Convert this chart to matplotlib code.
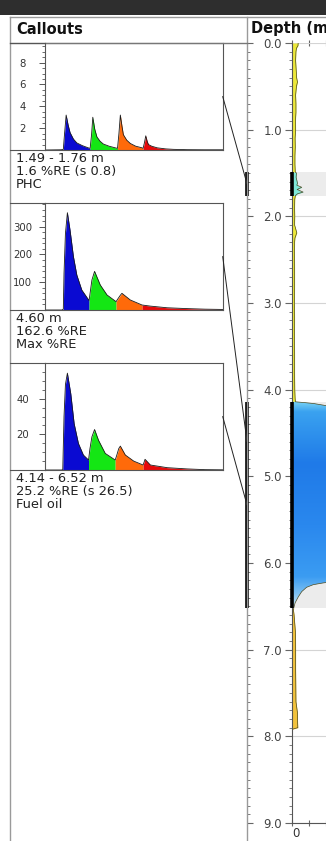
import matplotlib
matplotlib.use('Agg')
import matplotlib.pyplot as plt
import numpy as np
from matplotlib.lines import Line2D
from matplotlib.patches import Rectangle, ConnectionPatch
from matplotlib.colors import LinearSegmentedColormap
from matplotlib.ticker import MultipleLocator
import matplotlib.transforms as mtransforms

W, H = 326, 841

# callout chromatograms: time (% of window) vs intensity
peak_colors = ['#0a0ad2', '#14e614', '#ff6a0a', '#e60a0a']

c1_t = [0, 9.0, 10.3, 11.0, 11.9, 13.0, 14.1, 16.0, 17.9, 21.0, 24.3, 25.4, 26.2, 26.9, 28.0,
        29.2, 31.0, 32.8, 36.0, 39.5, 40.8, 41.6, 42.4, 43.3, 44.1, 46.0, 48.0, 51.0, 54.6, 55.2,
        56.0, 56.7, 57.5, 58.2, 60.0, 63.1, 68.0, 72.3, 80.0, 90.0, 100.0]
c1_v = [0, 0.02, 0.05, 1.5, 3.2, 2.3, 1.6, 1.0, 0.65, 0.4, 0.2, 0.15, 1.4, 3.0, 1.9,
        1.2, 0.8, 0.55, 0.35, 0.2, 0.15, 1.5, 3.2, 2.2, 1.4, 0.9, 0.6, 0.35, 0.2, 0.15,
        0.7, 1.3, 0.8, 0.5, 0.35, 0.2, 0.1, 0.06, 0.03, 0.02, 0.02]
c1_cuts = [25.4, 40.8, 55.2]

c2_t = [0, 9.5, 10.3, 10.7, 11.5, 12.6, 14.1, 16.0, 17.9, 20.7, 24.8, 26.4, 27.9, 31.1, 34.9,
        40.0, 41.0, 42.5, 43.3, 48.0, 54.6, 59.3, 68.8, 80.1, 90.0, 100.0]
c2_v = [0, 0, 3, 132, 276, 350, 287, 192, 126, 72, 34, 108, 139, 90, 54,
        30, 40, 54, 60, 36, 18, 14, 8, 5, 3, 2]
c2_cuts = [24.8, 40.0, 54.6]

c3_t = [0, 9.5, 10.0, 10.7, 11.5, 12.6, 14.5, 16.4, 18.8, 21.6, 24.5, 25.3, 26.4, 27.9, 30.1,
        33.9, 39.5, 40.3, 41.5, 42.4, 45.2, 49.9, 55.2, 55.8, 56.3, 59.3, 68.8, 80.1, 90.0, 100.0]
c3_v = [0, 0, 0.5, 30, 48, 54.3, 42.8, 26, 14.9, 8.4, 5.6, 12, 18.6, 22.7, 16.7,
        9.3, 5.6, 8, 12, 13.4, 8.4, 5.0, 2.8, 4.5, 6.0, 2.8, 1.3, 0.6, 0.2, 0.1]
c3_cuts = [24.5, 39.5, 55.2]

c_ymax = [9.8, 385, 60]
c_yticks = [[2, 4, 6, 8], [100, 200, 300], [20, 40]]
c_yminor = [0.5, 20, 5]

callout_top_m = [1.49, 4.60, 4.14]
callout_bot_m = [1.76, 4.60, 6.52]
callout_text = [["1.49 - 1.76 m", "1.6 %RE (s 0.8)", "PHC"],
                ["4.60 m", "162.6 %RE", "Max %RE"],
                ["4.14 - 6.52 m", "25.2 %RE (s 26.5)", "Fuel oil"]]

# depth log (%RE vs depth)
depth_m = [0.00, 0.03, 0.06, 0.10, 0.20, 0.30, 0.40, 0.45, 0.50, 0.60, 0.70, 0.80, 0.90, 1.00,
           1.10, 1.20, 1.30, 1.40, 1.49,
           1.50, 1.55, 1.60, 1.62, 1.64, 1.665, 1.69, 1.72, 1.74, 1.76,
           1.80, 1.90, 2.00, 2.10, 2.19, 2.25, 2.30, 2.40, 2.60, 2.80, 3.00, 3.20, 3.40, 3.60,
           3.80, 4.00, 4.10, 4.14,
           4.15, 4.16, 4.18, 4.22, 4.30, 4.40, 4.50, 4.60, 4.80, 5.00, 5.20, 5.40, 5.60, 5.80,
           6.00, 6.10, 6.20, 6.23, 6.25, 6.28, 6.33, 6.39, 6.46, 6.52,
           6.54, 6.60, 6.70, 6.80, 7.00, 7.20, 7.40, 7.60, 7.73, 7.80, 7.90, 7.92]
re_pct = [3.8, 3.7, 2.8, 2.5, 2.3, 2.6, 2.9, 3.4, 2.8, 2.3, 2.5, 2.5, 2.2, 2.3,
          2.0, 2.1, 1.9, 1.9, 2.1,
          2.8, 2.6, 3.2, 3.4, 3.0, 5.9, 3.2, 6.7, 3.4, 2.2,
          1.8, 1.7, 1.8, 1.7, 3.0, 1.9, 1.7, 1.6, 1.7, 1.7, 1.6, 1.7, 1.6, 1.7,
          1.7, 1.8, 2.0, 2.2,
          8, 13, 19, 30, 70, 120, 150, 162.6, 150, 140, 130, 120, 110, 95,
          75, 55, 30, 18.5, 12.7, 8.8, 5.9, 3.9, 2.0, 1.2,
          1.0, 1.4, 1.8, 2.2, 2.3, 2.3, 2.4, 2.5, 3.4, 3.4, 3.6, 0.0]
seg_edges = [0.0, 1.49, 1.76, 4.14, 6.52, 7.92]
seg_colors = ['#ece83a', '#7fe8d8', '#ece83a', None, '#f2c23c']
blue_stops = [(0.0, '#7ad4f4'), (0.05, '#3aa2f0'), (0.3, '#1f7ae8'), (0.6, '#2a88ee'),
              (0.85, '#3b9cf2'), (0.93, '#7cc0f2'), (1.0, '#d0e8f6')]
depth_ticks = [0, 1, 2, 3, 4, 5, 6, 7, 8, 9]


def fx(px):
    return px / W


def fy(py):
    return 1 - py / H


fig = plt.figure(figsize=(W / 100, H / 100), dpi=100)
fig.patch.set_facecolor('white')

# frame of the viewer
fig.add_artist(Rectangle((0, fy(15)), 1, 15 / H, transform=fig.transFigure,
                         color='#2e2e2e', lw=0))
frame = '#9a9a9a'
fig.add_artist(Line2D([fx(10), 1], [fy(17), fy(17)], color=frame, lw=1))
fig.add_artist(Line2D([fx(10), fx(10)], [fy(17), 0], color=frame, lw=1))
fig.add_artist(Line2D([fx(247), fx(247)], [fy(17), 0], color=frame, lw=1))
fig.add_artist(Line2D([fx(10), fx(247)], [fy(42.5), fy(42.5)], color='#777777', lw=1))
fig.text(fx(16), fy(29), 'Callouts', fontsize=10.5, fontweight='bold', va='center', color='#111111')
fig.text(fx(251), fy(29), 'Depth (m)', fontsize=10.5, fontweight='bold', va='center', color='#111111')

# depth log
ax = fig.add_axes([fx(291.7), fy(823), 170 / W, (823 - 43) / H])
ax.set_xlim(0, 100)
ax.set_ylim(9, 0)
d = np.array(depth_m)
v = np.array(re_pct)
for a, b in zip(callout_top_m[::2], callout_bot_m[::2]):
    ax.axhspan(a, b, color='#ececec', lw=0, zorder=0)
blue_poly = None
for (a, b), col in zip(zip(seg_edges[:-1], seg_edges[1:]), seg_colors):
    m = (d >= a) & (d <= b)
    if col is None:
        blue_poly = ax.fill_betweenx(d[m], 0, v[m], color='none', lw=0, zorder=1)
    else:
        ax.fill_betweenx(d[m], 0, v[m], color=col, lw=0, zorder=1)
cmap = LinearSegmentedColormap.from_list('lif', blue_stops)
grad = np.linspace(0, 1, 256).reshape(-1, 1)
img = ax.imshow(grad, cmap=cmap, aspect='auto', extent=[0, 100, seg_edges[4], seg_edges[3]],
                zorder=1, interpolation='bilinear')
img.set_clip_path(blue_poly.get_paths()[0], ax.transData)
ax.set_xlim(0, 100)
ax.set_ylim(9, 0)
ax.plot(v, d, color='#4a4a22', lw=0.5, zorder=2)
ax.set_yticks(depth_ticks)
ax.set_yticklabels(['%.1f' % t for t in depth_ticks])
ax.yaxis.set_minor_locator(MultipleLocator(0.1))
ax.grid(axis='y', color='#d4d4d4', lw=0.8)
ax.set_axisbelow(True)
ax.tick_params(axis='y', which='major', length=5, width=0.8, color='#666666',
               labelsize=8.5, labelcolor='#444444', pad=2)
ax.tick_params(axis='y', which='minor', length=2.5, width=0.6, color='#666666')
ax.set_xticks([0, 10, 20, 30, 40])
ax.set_xticklabels(['0', '', '', '', ''])
ax.tick_params(axis='x', which='major', top=True, direction='inout', length=4, width=0.8,
               color='#666666', labelsize=8.5, labelcolor='#333333', pad=1)
offset = mtransforms.ScaledTranslation(4 / 100, 0, fig.dpi_scale_trans)
for lab in ax.get_xticklabels():
    lab.set_transform(lab.get_transform() + offset)
for s in ['top', 'right']:
    ax.spines[s].set_visible(False)
for s in ['left', 'bottom']:
    ax.spines[s].set_color('#555555')
    ax.spines[s].set_linewidth(0.8)

# depth ruler on the divider
axr = fig.add_axes([fx(247), fy(823), fx(291.7) - fx(247), (823 - 43) / H])
axr.set_xlim(0, 1)
axr.set_ylim(9, 0)
axr.patch.set_visible(False)
for s in axr.spines.values():
    s.set_visible(False)
axr.set_xticks([])
axr.set_yticks(depth_ticks)
axr.yaxis.set_minor_locator(MultipleLocator(0.1))
axr.tick_params(axis='y', which='major', direction='in', length=4, width=0.8,
                color='#666666', labelleft=False)
axr.tick_params(axis='y', which='minor', direction='in', length=2.5, width=0.6, color='#666666')

for a, b in zip(callout_top_m[::2], callout_bot_m[::2]):
    ax.plot([0, 0], [a, b], color='black', lw=2.6, solid_capstyle='butt', clip_on=False, zorder=4)
    axr.plot([0, 0], [a, b], color='black', lw=2.6, solid_capstyle='butt', clip_on=False, zorder=4)

# callouts
series = [(c1_t, c1_v, c1_cuts), (c2_t, c2_v, c2_cuts), (c3_t, c3_v, c3_cuts)]
box_tops = [43, 203, 363]
for i, (t, y, cuts) in enumerate(series):
    top = box_tops[i]
    cax = fig.add_axes([fx(45), fy(top + 107), fx(222.7) - fx(45), 107 / H])
    t = np.array(t)
    y = np.array(y)
    edges = [0] + cuts + [100]
    for k in range(4):
        m = (t >= edges[k]) & (t <= edges[k + 1])
        cax.fill_between(t[m], 0, y[m], color=peak_colors[k], lw=0)
    cax.plot(t, y, color='#1a1a1a', lw=0.6)
    cax.set_xlim(0, 100)
    cax.set_ylim(0, c_ymax[i])
    cax.set_xticks([])
    cax.set_yticks(c_yticks[i])
    cax.yaxis.set_minor_locator(MultipleLocator(c_yminor[i]))
    cax.tick_params(axis='y', which='major', length=4, width=0.7, color='#555555',
                    labelsize=7.3, labelcolor='#333333', pad=12)
    cax.tick_params(axis='y', which='minor', length=2, width=0.6, color='#555555')
    for lab in cax.get_yticklabels():
        lab.set_horizontalalignment('center')
    for s in cax.spines.values():
        s.set_color('#555555')
        s.set_linewidth(0.8)
    fig.add_artist(Line2D([fx(10), fx(45)], [fy(top), fy(top)], color='#555555', lw=0.8))
    fig.add_artist(Line2D([fx(10), fx(45)], [fy(top + 107), fy(top + 107)], color='#555555', lw=0.8))
    for j, line in enumerate(callout_text[i]):
        cax.annotate(line, xy=(0, 0), xycoords='axes fraction',
                     xytext=(-29, -8.5 - 13.2 * j), textcoords='offset pixels',
                     fontsize=9.4, va='center', ha='left', color='#222222')
    mid = (callout_top_m[i] + callout_bot_m[i]) / 2
    con = ConnectionPatch(xyA=(1, 0.5), coordsA=cax.transAxes, xyB=(0, mid), coordsB=axr.transData,
                          color='#222222', lw=0.7)
    fig.add_artist(con)

fig.savefig('out.png', dpi=100)
